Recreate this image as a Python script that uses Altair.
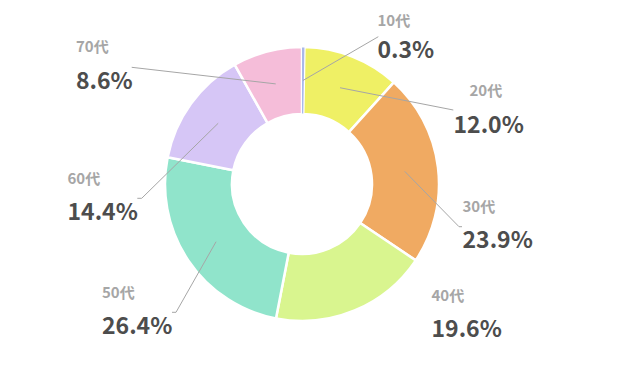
import altair as alt
import pandas as pd

# ---- data ----
categories = ["10代", "20代", "30代", "40代", "50代", "60代", "70代"]
shares = [0.3, 12.0, 23.9, 19.6, 26.4, 14.4, 8.6]
value_labels = ["0.3%", "12.0%", "23.9%", "19.6%", "26.4%", "14.4%", "8.6%"]

# ---- styles ----
colors = ["#a9b9ea", "#eff065", "#f0aa62", "#d9f58f", "#90e4cb", "#d6c6f6", "#f5bdd9"]

# ---- layout (page pixel positions, converted to chart coordinates below) ----
PAD_TOP = 10
OX, OY = 8, 8 + PAD_TOP          # chart origin on the page
CX, CY = 302 - OX, 184 - OY       # donut centre
R_OUT, R_IN = 137, 70
R_MID = (R_OUT + R_IN) / 2
cat_x_pg = [377.5, 469.5, 462.5, 431.5, 102, 67.5, 76]
val_x_pg = [377.5, 453.5, 462.5, 431.5, 102, 67.5, 76]
cat_base_pg = [25.6, 96, 212, 301, 298, 183.5, 52]
val_base_pg = [58.3, 132.5, 247.5, 337, 334, 220, 89]
elbow_x_pg = [378.3, 453.3, 459, None, 176, 141.7, 131.7]
elbow_y_pg = [36.7, 110, 226.7, None, 312.3, 198.3, 67.3]
end_x_pg = [378.3, 453.3, 462, None, 172, 137.3, 131.7]
end_y_pg = [36.7, 110, 226.7, None, 312.3, 198.3, 67.3]


def sx(vals):
    return [None if v is None else v - OX for v in vals]


def sy(vals):
    return [None if v is None else v - OY for v in vals]


df = pd.DataFrame({
    "idx": list(range(len(categories))),
    "cat": categories,
    "share": shares,
    "vlabel": value_labels,
    "cat_x": sx(cat_x_pg), "val_x": sx(val_x_pg),
    "cat_base": sy(cat_base_pg), "val_base": sy(val_base_pg),
    "ex": sx(elbow_x_pg), "ey": sy(elbow_y_pg),
    "fx": sx(end_x_pg), "fy": sy(end_y_pg),
})

base = alt.Chart(df).transform_joinaggregate(
    total="sum(share)"
).transform_window(
    cum="sum(share)", sort=[alt.SortField("idx")]
).transform_calculate(
    a0="(datum.cum - datum.share) / datum.total * 2 * PI",
    a1="datum.cum / datum.total * 2 * PI",
).transform_calculate(
    amid="(datum.a0 + datum.a1) / 2",
).transform_calculate(
    sx=f"{CX} + {R_MID} * sin(datum.amid)",
    sy=f"{CY} - {R_MID} * cos(datum.amid)",
)

color_enc = alt.Color("cat:N", scale=alt.Scale(domain=categories, range=colors), legend=None)

arcs = base.mark_arc(radius=R_OUT, innerRadius=R_IN, stroke="white", strokeWidth=2.5).encode(
    theta=alt.Theta("a0:Q", scale=None),
    theta2="a1:Q",
    color=color_enc,
    x=alt.value(CX), y=alt.value(CY),
)

thin = base.transform_filter("datum.share < 1").mark_arc(
    radius=R_OUT - 0.5, innerRadius=R_IN + 0.5
).encode(
    theta=alt.Theta("a0:Q", scale=None),
    theta2="a1:Q",
    color=color_enc,
    x=alt.value(CX), y=alt.value(CY),
)

lead1 = base.transform_filter("isValid(datum.ex)").mark_rule(
    color="#a6a6a6", strokeWidth=1
).encode(
    x=alt.X("sx:Q", scale=None), y=alt.Y("sy:Q", scale=None),
    x2="ex:Q", y2="ey:Q",
)

lead2 = base.transform_filter("isValid(datum.ex) && datum.fx != datum.ex").mark_rule(
    color="#a6a6a6", strokeWidth=1
).encode(
    x=alt.X("ex:Q", scale=None), y=alt.Y("ey:Q", scale=None),
    x2="fx:Q", y2="fy:Q",
)

cat_text = base.mark_text(
    align="left", baseline="alphabetic", font="Noto Sans CJK JP",
    fontWeight="bold", fontSize=15, color="#a6a6a6",
).encode(
    x=alt.X("cat_x:Q", scale=None), y=alt.Y("cat_base:Q", scale=None), text="cat:N",
)

val_text = base.mark_text(
    align="left", baseline="alphabetic", font="Noto Sans CJK JP",
    fontWeight="bold", fontSize=23, color="#4d4d4d",
).encode(
    x=alt.X("val_x:Q", scale=None), y=alt.Y("val_base:Q", scale=None), text="vlabel:N",
)

chart = alt.layer(arcs, thin, lead1, lead2, cat_text, val_text).properties(
    width=603, height=357 - PAD_TOP,
    autosize=alt.AutoSizeParams(type="none"),
    padding={"top": PAD_TOP, "left": 0, "right": 0, "bottom": 0},
    background="white",
).configure_view(stroke=None)

chart.save("out.html", embed_options={"renderer": "svg", "actions": False})
